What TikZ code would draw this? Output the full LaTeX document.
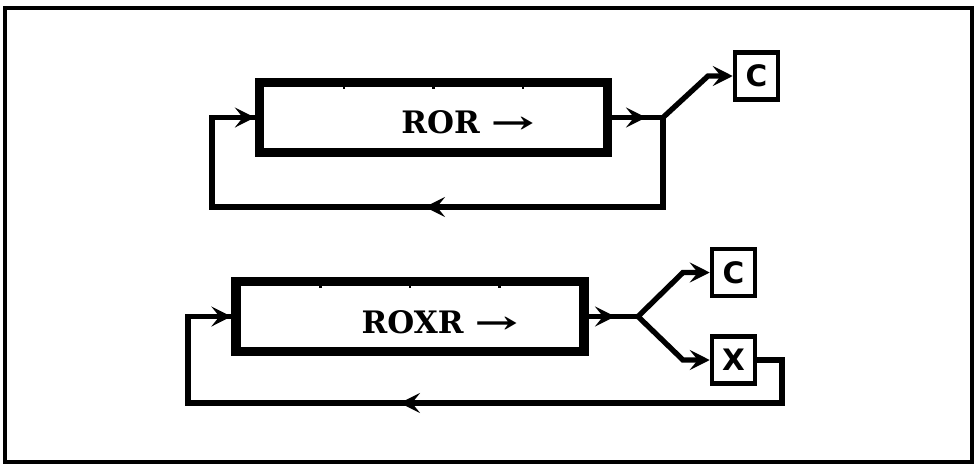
\documentclass[tikz,border=0pt]{standalone}
\usepackage{fontspec}
\setmainfont{DejaVu Serif}
\newfontfamily\flagfont{DejaVu Sans}
\usetikzlibrary{arrows.meta,positioning,calc}

\begin{document}
\begin{tikzpicture}[x=0.025cm, y=-0.025cm,
    reg/.style={draw, line width=6.5pt, minimum width=8.7cm, minimum height=1.75cm, inner sep=0pt},
    flag/.style={draw, line width=3.2pt, minimum width=1.075cm, minimum height=1.175cm, inner sep=0pt, font=\flagfont\bfseries\fontsize{21}{21}\selectfont},
    lbl/.style={font=\bfseries\fontsize{22}{22}\selectfont, inner sep=0pt},
    wire/.style={line width=3.8pt, line join=miter},
    tip/.style={wire, -{Stealth[length=5mm, width=5mm, inset=2mm]}},
    tick/.style={line width=1.8pt}
]
    \useasboundingbox (0,0) rectangle (976,468);
    \draw[line width=2.8pt] (5,8) rectangle (972,462);

    % ROR
    \node[reg] (reg1) at (433.5,117.5) {};
    \node[lbl] (lbl1) at (468,122) {ROR \scalebox{1.7}[1]{→}};
    \node[flag] (flagc1) at (756.5,76) {C};
    \foreach \f in {0.25,0.5,0.75}
        \draw[tick] ($(reg1.north west)!\f!(reg1.north east)$) ++(0,2) -- ++(0,9);

    \coordinate (j1) at (663,117.5);
    \coordinate (o1) at (646,117.5);
    \coordinate (br1) at (708,76);
    \coordinate (fb1a) at (663,207);
    \coordinate (fb1m) at (425,207);
    \coordinate (fb1b) at (212,207);
    \coordinate (fb1c) at (212,117.5);

    \draw[wire] (reg1.east) -- (j1) -- (fb1a) -- (fb1b) -- (fb1c) -- (reg1.west);
    \draw[tip] (reg1.east) -- (o1);
    \draw[tip] (fb1a) -- (fb1m);
    \draw[tip] (fb1c) -- (reg1.west);
    \draw[tip] (j1) -- (br1) -- (flagc1.west);

    % ROXR
    \node[reg] (reg2) at (410,316.5) {};
    \node[lbl] (lbl2) at (440,322) {ROXR \scalebox{1.7}[1]{→}};
    \node[flag] (flagc2) at (733.5,272.5) {C};
    \node[flag] (flagx) at (733.5,360) {X};
    \foreach \f in {0.25,0.5,0.75}
        \draw[tick] ($(reg2.north west)!\f!(reg2.north east)$) ++(0,2) -- ++(0,9);

    \coordinate (j2) at (638,316.5);
    \coordinate (o2) at (615,316.5);
    \coordinate (br2) at (683,272.5);
    \coordinate (br3) at (683,360);
    \coordinate (fb2a) at (782,360);
    \coordinate (fb2b) at (782,403);
    \coordinate (fb2m) at (400,403);
    \coordinate (fb2c) at (188,403);
    \coordinate (fb2d) at (188,316.5);

    \draw[wire] (reg2.east) -- (j2);
    \draw[tip] (reg2.east) -- (o2);
    \draw[tip] (j2) -- (br2) -- (flagc2.west);
    \draw[tip] (j2) -- (br3) -- (flagx.west);
    \draw[wire] (flagx.east) -- (fb2a) -- (fb2b) -- (fb2c) -- (fb2d) -- (reg2.west);
    \draw[tip] (fb2b) -- (fb2m);
    \draw[tip] (fb2d) -- (reg2.west);
\end{tikzpicture}
\end{document}
